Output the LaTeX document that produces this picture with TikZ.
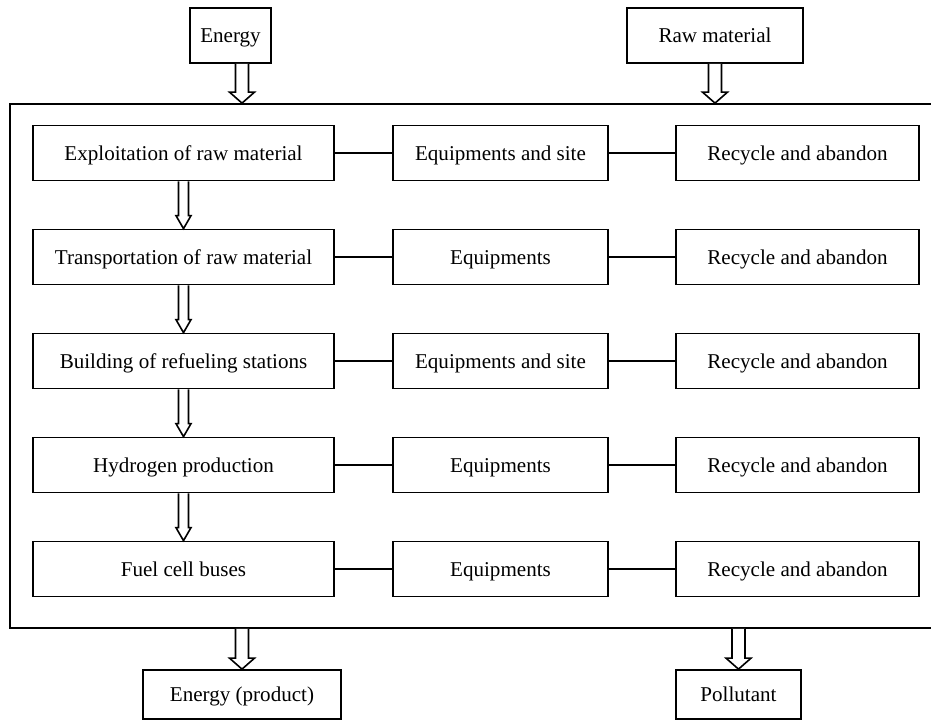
\documentclass[tikz,border=0pt]{standalone}
\usepackage{fontspec}
\setmainfont{Liberation Serif}
\usepackage{tikz}
\usetikzlibrary{calc}

\tikzset{
  box/.style={draw, line width=1.3pt, inner sep=0pt, align=center, text height=14pt, text depth=3pt, font=\fontsize{15.8}{19}\selectfont},
  link/.style={draw, line width=1.1pt},
  blockline/.style={draw, line width=1.2pt, line join=miter, fill=white}
}

% hollow block arrow: start, tip, shaft half width, head half width, head length
\newcommand{\blockarrow}[5]{%
  \draw[blockline] ($(#1)+(-#3,0)$) -- ($(#2)+(-#3,-#5)$) -- ($(#2)+(-#4,-#5)$) -- (#2)
    -- ($(#2)+(#4,-#5)$) -- ($(#2)+(#3,-#5)$) -- ($(#1)+(#3,0)$);}

\begin{document}
\begin{tikzpicture}[x=0.75pt,y=0.75pt,yscale=-1,xscale=1]
\useasboundingbox (0,0) rectangle (931,725);

% Outer frame (right side runs off the page)
\node [draw, line width=1.3pt, minimum width=930*0.75pt, minimum height=524*0.75pt] (frame) at (475,366) {};

% Inputs and outputs
\node [box, minimum width=81*0.75pt, minimum height=55*0.75pt] (energy) at (230.5,35.5) {Energy};
\node [box, minimum width=176*0.75pt, minimum height=55*0.75pt] (raw) at (715,35.5) {Raw material};
\node [box, minimum width=198*0.75pt, minimum height=49*0.75pt] (product) at (242,694.5) {Energy (product)};
\node [box, minimum width=125*0.75pt, minimum height=49*0.75pt] (pollutant) at (738.5,694.5) {Pollutant};

% Stages
\node [box, minimum width=301*0.75pt, minimum height=55*0.75pt] (stage1) at (183.5,153) {Exploitation of raw material};
\node [box, minimum width=301*0.75pt, minimum height=55*0.75pt] (stage2) at (183.5,257) {Transportation of raw material};
\node [box, minimum width=301*0.75pt, minimum height=55*0.75pt] (stage3) at (183.5,361) {Building of refueling stations};
\node [box, minimum width=301*0.75pt, minimum height=55*0.75pt] (stage4) at (183.5,465) {Hydrogen production};
\node [box, minimum width=301*0.75pt, minimum height=55*0.75pt] (stage5) at (183.5,569) {Fuel cell buses};

% Equipments
\node [box, minimum width=215*0.75pt, minimum height=55*0.75pt] (equip1) at (500.5,153) {Equipments and site};
\node [box, minimum width=215*0.75pt, minimum height=55*0.75pt] (equip2) at (500.5,257) {Equipments};
\node [box, minimum width=215*0.75pt, minimum height=55*0.75pt] (equip3) at (500.5,361) {Equipments and site};
\node [box, minimum width=215*0.75pt, minimum height=55*0.75pt] (equip4) at (500.5,465) {Equipments};
\node [box, minimum width=215*0.75pt, minimum height=55*0.75pt] (equip5) at (500.5,569) {Equipments};

% Recycling
\node [box, minimum width=243*0.75pt, minimum height=55*0.75pt] (recycle1) at (797.5,153) {Recycle and abandon};
\node [box, minimum width=243*0.75pt, minimum height=55*0.75pt] (recycle2) at (797.5,257) {Recycle and abandon};
\node [box, minimum width=243*0.75pt, minimum height=55*0.75pt] (recycle3) at (797.5,361) {Recycle and abandon};
\node [box, minimum width=243*0.75pt, minimum height=55*0.75pt] (recycle4) at (797.5,465) {Recycle and abandon};
\node [box, minimum width=243*0.75pt, minimum height=55*0.75pt] (recycle5) at (797.5,569) {Recycle and abandon};

% Links
\draw [link] (stage1) -- (equip1) -- (recycle1);
\draw [link] (stage2) -- (equip2) -- (recycle2);
\draw [link] (stage3) -- (equip3) -- (recycle3);
\draw [link] (stage4) -- (equip4) -- (recycle4);
\draw [link] (stage5) -- (equip5) -- (recycle5);

% Flow arrows between stages
\blockarrow{stage1.south}{stage2.north}{5}{7.5}{13}
\blockarrow{stage2.south}{stage3.north}{5}{7.5}{13}
\blockarrow{stage3.south}{stage4.north}{5}{7.5}{13}
\blockarrow{stage4.south}{stage5.north}{5}{7.5}{13}

% Arrows in and out of the frame
\coordinate (energyOut) at (energy.south -| product.north);
\coordinate (energyIn) at (product.north |- frame.north);
\coordinate (rawIn) at (raw.south |- frame.north);
\coordinate (productOut) at (product.north |- frame.south);
\coordinate (pollutantOut) at (pollutant.north |- frame.south);
\blockarrow{energyOut}{energyIn}{6.5}{12.5}{11}
\blockarrow{raw.south}{rawIn}{6.5}{12.5}{11}
\blockarrow{productOut}{product.north}{6.5}{12.5}{11}
\blockarrow{pollutantOut}{pollutant.north}{6.5}{12.5}{11}

\end{tikzpicture}
\end{document}
